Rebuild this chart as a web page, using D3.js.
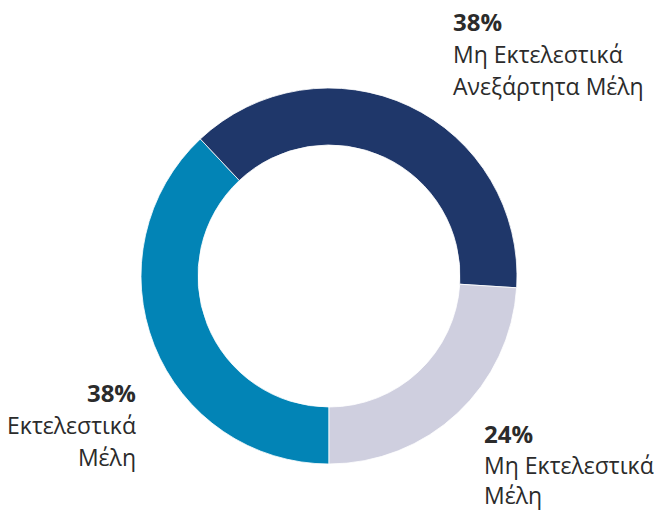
<!doctype html>
<html lang="el">
<head>
<meta charset="UTF-8">
<title>Donut</title>
<script src="https://d3js.org/d3.v7.min.js"></script>
<style>
  body { margin: 0; background: #fff; }
  svg { display: block; }
  text { font-family: "Open Sans", "Noto Sans", sans-serif; fill: #2b2b2b; }
  .pct { font-weight: 700; font-size: 24px; }
  .lbl { font-size: 23px; }
</style>
</head>
<body>
<svg width="654" height="511"></svg>
<script>
const categories = ['Εκτελεστικά Μέλη', 'Μη Εκτελεστικά Ανεξάρτητα Μέλη', 'Μη Εκτελεστικά Μέλη'];
const values = [38, 38, 24];
const colors = ['#0284b6', '#1f376a', '#cfcfdf'];
const labelLines = [['Εκτελεστικά', 'Μέλη'], ['Μη Εκτελεστικά', 'Ανεξάρτητα Μέλη'], ['Μη Εκτελεστικά', 'Μέλη']];

const svg = d3.select('svg');
const cx = 329, cy = 276, outerR = 188, innerR = 131;

const pie = d3.pie().sort(null).startAngle(Math.PI).endAngle(3 * Math.PI);
const arc = d3.arc().innerRadius(innerR).outerRadius(outerR);

const g = svg.append('g').attr('transform', `translate(${cx},${cy})`);
g.selectAll('path')
  .data(pie(values))
  .join('path')
  .attr('d', arc)
  .attr('fill', (d, i) => colors[i])
  .attr('stroke', '#fff')
  .attr('stroke-width', 0.8);

// label blocks: x, first baseline, anchor
const labelPos = [
  { x: 136, y: 402, anchor: 'end' },
  { x: 453, y: 31, anchor: 'start' },
  { x: 484, y: 443, anchor: 'start' }
];
const lineH = 32;

labelPos.forEach((p, i) => {
  const t = svg.append('g');
  const lh = i === 2 ? 30.5 : lineH;
  t.append('text')
    .attr('class', 'pct')
    .attr('x', p.x).attr('y', p.y)
    .attr('text-anchor', p.anchor)
    .text(values[i] + '%');
  labelLines[i].forEach((line, j) => {
    t.append('text')
      .attr('class', 'lbl')
      .attr('x', p.x).attr('y', p.y + lh * (j + 1))
      .attr('text-anchor', p.anchor)
      .text(line);
  });
});
</script>
</body>
</html>
